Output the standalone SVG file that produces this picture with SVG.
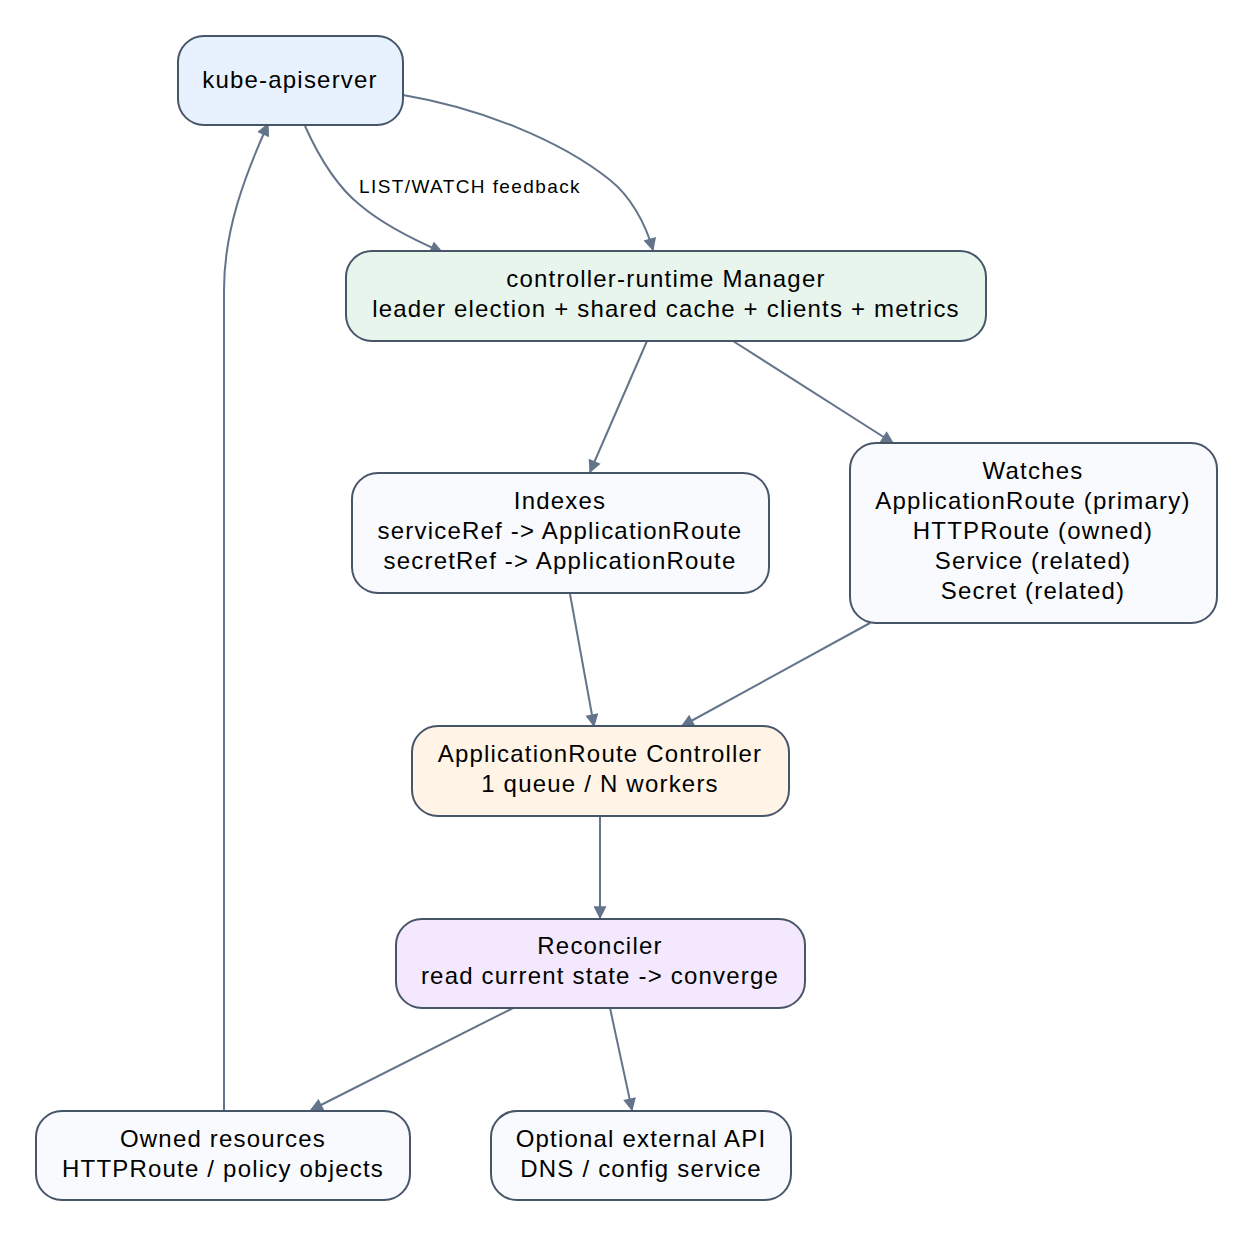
<svg xmlns="http://www.w3.org/2000/svg" width="1253" height="1237" viewBox="0 0 1253 1237">
<style>
text{font-family:"Liberation Sans",Arimo,Arial,Helvetica,sans-serif}
.n{stroke:#475569;stroke-width:2}
.t{font-size:24px;letter-spacing:1.2px;fill:#000;text-anchor:middle}
.e{fill:none;stroke:#64748b;stroke-width:2;marker-end:url(#a)}
</style>
<defs><marker id="a" viewBox="0 0 10 10" refX="9" refY="5" markerWidth="15" markerHeight="13" markerUnits="userSpaceOnUse" orient="auto"><path d="M0,0L10,5L0,10z" fill="#64748b"/></marker></defs>
<rect width="1253" height="1237" fill="#fff"/>
<g id="edges">
<path class="e" d="M305,126 C318,155 335,185 360,205 C380,222 405,236 442,252"/>
<path class="e" d="M403,95 C480,108 560,140 610,180 C630,196 645,222 653,250"/>
<path class="e" d="M647,341 L590,472"/>
<path class="e" d="M733,341 L893,443"/>
<path class="e" d="M570,594 L594,726"/>
<path class="e" d="M870,623 L682,726"/>
<path class="e" d="M600,816 L600,918"/>
<path class="e" d="M513,1008 L311,1110"/>
<path class="e" d="M610,1008 L632,1110"/>
<path class="e" d="M224,1110 L224,290 C224,230 245,175 268,124"/>
<text x="470" y="193" font-size="19" letter-spacing="1.4" text-anchor="middle">LIST/WATCH feedback</text>
</g>
<g id="kube"><rect class="n" x="178" y="36" width="225" height="89" rx="26" fill="#e8f2ff"/><text class="t" x="290" y="88">kube-apiserver</text></g>
<g id="manager"><rect class="n" x="346" y="251" width="640" height="90" rx="26" fill="#e8f5ec"/><text class="t" x="666" y="287">controller-runtime Manager</text><text class="t" x="666" y="317">leader election + shared cache + clients + metrics</text></g>
<g id="indexes"><rect class="n" x="352" y="473" width="417" height="120" rx="26" fill="#f8fafd"/><text class="t" x="560" y="509">Indexes</text><text class="t" x="560" y="539">serviceRef -&gt; ApplicationRoute</text><text class="t" x="560" y="569">secretRef -&gt; ApplicationRoute</text></g>
<g id="watches"><rect class="n" x="850" y="443" width="367" height="180" rx="26" fill="#f8fafd"/><text class="t" x="1033" y="479">Watches</text><text class="t" x="1033" y="509">ApplicationRoute (primary)</text><text class="t" x="1033" y="539">HTTPRoute (owned)</text><text class="t" x="1033" y="569">Service (related)</text><text class="t" x="1033" y="599">Secret (related)</text></g>
<g id="controller"><rect class="n" x="412" y="726" width="377" height="90" rx="26" fill="#fff4e6"/><text class="t" x="600" y="762">ApplicationRoute Controller</text><text class="t" x="600" y="792">1 queue / N workers</text></g>
<g id="reconciler"><rect class="n" x="396" y="919" width="409" height="89" rx="26" fill="#f3e8fd"/><text class="t" x="600" y="954">Reconciler</text><text class="t" x="600" y="984">read current state -&gt; converge</text></g>
<g id="owned"><rect class="n" x="36" y="1111" width="374" height="89" rx="26" fill="#f8fafd"/><text class="t" x="223" y="1147">Owned resources</text><text class="t" x="223" y="1177">HTTPRoute / policy objects</text></g>
<g id="optional"><rect class="n" x="491" y="1111" width="300" height="89" rx="26" fill="#f8fafd"/><text class="t" x="641" y="1147">Optional external API</text><text class="t" x="641" y="1177">DNS / config service</text></g>
</svg>
